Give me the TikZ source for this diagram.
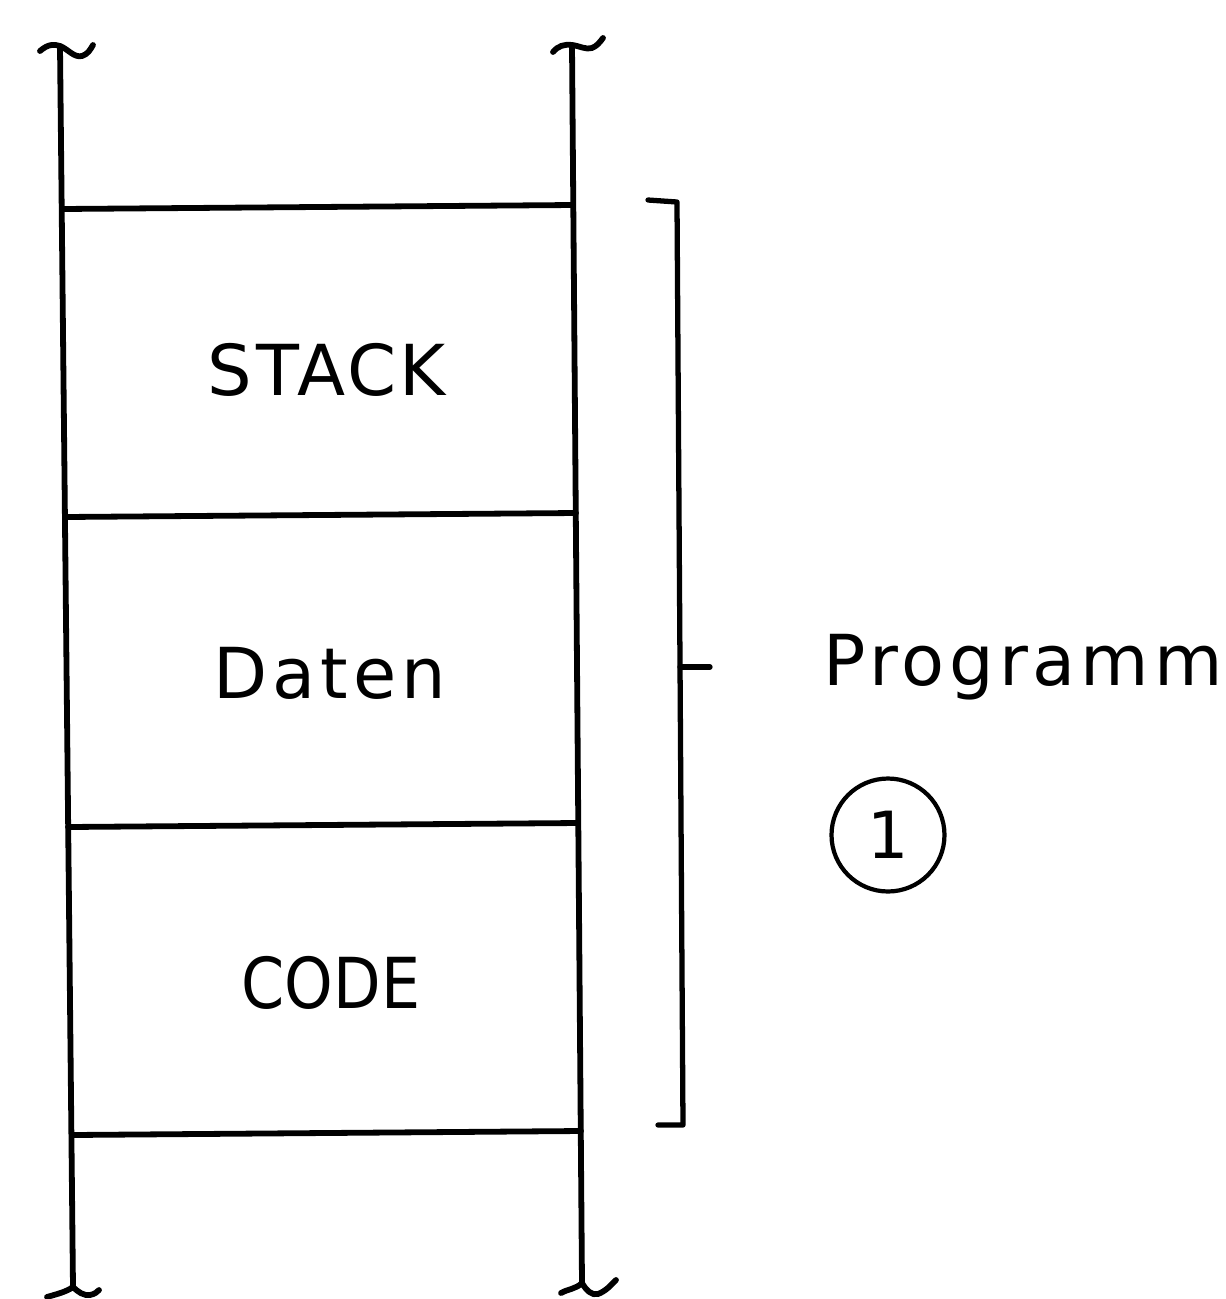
\documentclass[tikz,border=0pt]{standalone}
\usepackage{fontspec}
\setmainfont{DejaVu Sans}
\newfontfamily\codefont[FakeStretch=0.88]{DejaVu Sans}
\newfontfamily\stackfont[LetterSpace=5]{DejaVu Sans}
\newfontfamily\widefont[LetterSpace=7]{DejaVu Sans}

\begin{document}
\begin{tikzpicture}[x=0.02cm, y=-0.02cm,
  line cap=round, line join=round,
  wall/.style={line width=3.3pt},
  brace/.style={line width=3.0pt},
  lbl/.style={inner sep=0pt, anchor=base, font=\fontsize{40}{44}\selectfont},
  ring/.style={draw, circle, line width=2.4pt, minimum size=2.26cm, inner sep=0pt,
    font=\fontsize{37}{40}\selectfont}]
\useasboundingbox (0,0) rectangle (1226,1299);

% memory walls (open at both ends)
\coordinate (LT) at (60,46);
\coordinate (LB) at (73,1287);
\coordinate (RT) at (572,45);
\coordinate (RB) at (582,1283);
\draw[wall] (LT) -- (LB);
\draw[wall] (RT) -- (RB);

% wavy break marks at the open ends
\draw[wall] (40,51) .. controls (48,44) and (54,44) .. (LT)
  .. controls (68,49) and (74,58) .. (82,56) .. controls (88,54) and (90,50) .. (93,45);
\draw[wall] (553,52) .. controls (558,46) and (564,44) .. (RT)
  .. controls (580,46) and (586,50) .. (592,48) .. controls (597,46) and (600,42) .. (603,38);
\draw[wall] (47,1297) .. controls (57,1294) and (66,1292) .. (LB)
  .. controls (78,1292) and (84,1296) .. (90,1295) .. controls (95,1294) and (97,1292) .. (99,1290);
\draw[wall] (561,1293) .. controls (568,1289) and (576,1289) .. (RB)
  .. controls (586,1290) and (592,1296) .. (598,1294) .. controls (606,1291) and (611,1285) .. (616,1280);

% segment boundaries
\coordinate (a1) at (62,209);   \coordinate (b1) at (573,205);
\coordinate (a2) at (65,517);   \coordinate (b2) at (576,513);
\coordinate (a3) at (68,827);   \coordinate (b3) at (578,823);
\coordinate (a4) at (72,1135);  \coordinate (b4) at (581,1131);
\draw[wall] (a1) -- (b1);
\draw[wall] (a2) -- (b2);
\draw[wall] (a3) -- (b3);
\draw[wall] (a4) -- (b4);

% segment names
\node[lbl] (stack) at (327,395) {\stackfont STACK};
\node[lbl] (daten) at (330,698) {\widefont Daten};
\node[lbl] (code)  at (331,1008) {\codefont CODE};

% bracket spanning the program
\coordinate (k1) at (648,200);
\coordinate (k2) at (677,202);
\coordinate (k3) at (683,1125);
\coordinate (k4) at (658,1125);
\coordinate (km) at (680,667);
\coordinate (kt) at (710,667);
\draw[brace] (k1) -- (k2) -- (k3) -- (k4);
\draw[brace] (km) -- (kt);

\node[lbl, anchor=base west] (prog) at (823,685) {\widefont Programm};
\node[ring] (one) at (888,835) {1};
\end{tikzpicture}
\end{document}
